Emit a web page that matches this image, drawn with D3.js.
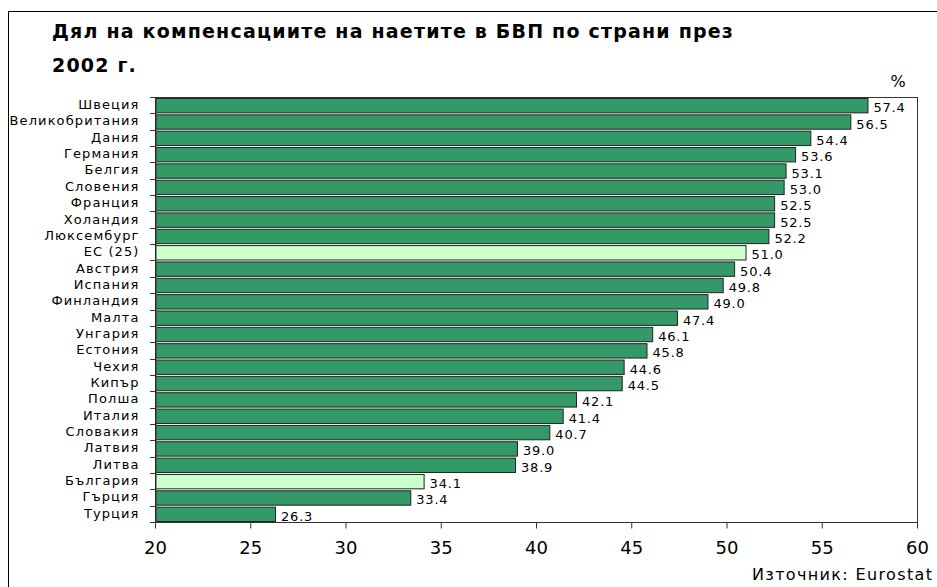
<!DOCTYPE html>
<html>
<head>
<meta charset="utf-8">
<script src="https://cdn.jsdelivr.net/npm/d3@7"></script>
<style>
  body { margin: 0; background: #fff; }
  text { font-family: "DejaVu Sans", Verdana, sans-serif; fill: #000; }
</style>
</head>
<body>
<div id="chart"></div>
<script>
// data
var countries = ['Швеция', 'Великобритания', 'Дания', 'Германия', 'Белгия', 'Словения', 'Франция',
    'Холандия', 'Люксембург', 'ЕС (25)', 'Австрия', 'Испания', 'Финландия', 'Малта', 'Унгария',
    'Естония', 'Чехия', 'Кипър', 'Полша', 'Италия', 'Словакия', 'Латвия', 'Литва', 'България',
    'Гърция', 'Турция'];
var values = [57.4, 56.5, 54.4, 53.6, 53.1, 53.0, 52.5, 52.5, 52.2, 51.0, 50.4, 49.8, 49.0, 47.4,
    46.1, 45.8, 44.6, 44.5, 42.1, 41.4, 40.7, 39.0, 38.9, 34.1, 33.4, 26.3];
var highlighted = ['ЕС (25)', 'България'];
var xTicks = [20, 25, 30, 35, 40, 45, 50, 55, 60];

var width = 937, height = 587;
var plot = {left: 155, right: 917, top: 97, bottom: 522};

var svg = d3.select('#chart').append('svg')
    .attr('width', width)
    .attr('height', height);

// outer frame
svg.append('rect')
    .attr('x', 8.5).attr('y', 11.5)
    .attr('width', 940).attr('height', 590)
    .attr('fill', 'none').attr('stroke', '#000').attr('stroke-width', 1);

svg.append('text').attr('x', 52).attr('y', 38)
    .style('font-size', '19px').style('font-weight', 'bold').style('letter-spacing', '1.2px')
    .text('Дял на компенсациите на наетите в БВП по страни през');
svg.append('text').attr('x', 52).attr('y', 72)
    .style('font-size', '19px').style('font-weight', 'bold').style('letter-spacing', '1.2px')
    .text('2002 г.');
svg.append('text').attr('x', 898).attr('y', 87)
    .attr('text-anchor', 'middle')
    .style('font-size', '16px')
    .text('%');

var x = d3.scaleLinear().domain([20, 60]).range([plot.left, plot.right]);
var y = d3.scaleBand().domain(countries).range([plot.top, plot.bottom]).paddingInner(0.12).paddingOuter(0.06);

var data = countries.map(function (c, i) { return {name: c, value: values[i]}; });

// plot frame
svg.append('rect')
    .attr('x', plot.left + 0.5).attr('y', plot.top + 0.5)
    .attr('width', plot.right - plot.left).attr('height', plot.bottom - plot.top)
    .attr('fill', 'none').attr('stroke', '#333').attr('stroke-width', 1);

svg.selectAll('rect.bar')
    .data(data)
    .enter().append('rect')
    .attr('class', 'bar')
    .attr('x', x(20) + 0.5)
    .attr('y', function (d) { return y(d.name) + 0.5; })
    .attr('width', function (d) { return x(d.value) - x(20); })
    .attr('height', y.bandwidth())
    .attr('fill', function (d) { return highlighted.indexOf(d.name) >= 0 ? '#ccffcc' : '#339966'; })
    .attr('stroke', '#222')
    .attr('stroke-width', 1);

svg.selectAll('text.val')
    .data(data)
    .enter().append('text')
    .attr('class', 'val')
    .attr('x', function (d) { return x(d.value) + 6; })
    .attr('y', function (d) { return y(d.name) + y.bandwidth() / 2 + 7; })
    .style('font-size', '13px').style('letter-spacing', '0.8px')
    .text(function (d) { return d.value.toFixed(1); });

// y axis
var yAxis = d3.axisLeft(y).tickSize(0).tickPadding(16);
var gy = svg.append('g').attr('transform', 'translate(' + (plot.left + 0.5) + ',0)').call(yAxis);
gy.select('.domain').attr('stroke', '#333');
gy.selectAll('text').style('font-size', '13px').style('letter-spacing', '1.1px')
    .attr('dy', '0.3em').attr('fill', '#000');

// band boundary ticks on the left
var step = (plot.bottom - plot.top) / countries.length;
svg.selectAll('line.ytick')
    .data(d3.range(countries.length + 1))
    .enter().append('line')
    .attr('class', 'ytick')
    .attr('x1', plot.left - 5).attr('x2', plot.left)
    .attr('y1', function (i) { return Math.round(plot.top + i * step) + 0.5; })
    .attr('y2', function (i) { return Math.round(plot.top + i * step) + 0.5; })
    .attr('stroke', '#333');

// x axis
var xAxis = d3.axisBottom(x).tickValues(xTicks).tickSize(6).tickPadding(13).tickFormat(d3.format('d'));
var gx = svg.append('g').attr('transform', 'translate(0,' + (plot.bottom + 0.5) + ')').call(xAxis);
gx.select('.domain').remove();
gx.selectAll('line').attr('stroke', '#333');
gx.selectAll('text').style('font-size', '18px').attr('fill', '#000');

svg.append('text').attr('x', 752).attr('y', 580)
    .style('font-size', '16px').style('letter-spacing', '1.35px')
    .text('Източник: Eurostat');
</script>
</body>
</html>
